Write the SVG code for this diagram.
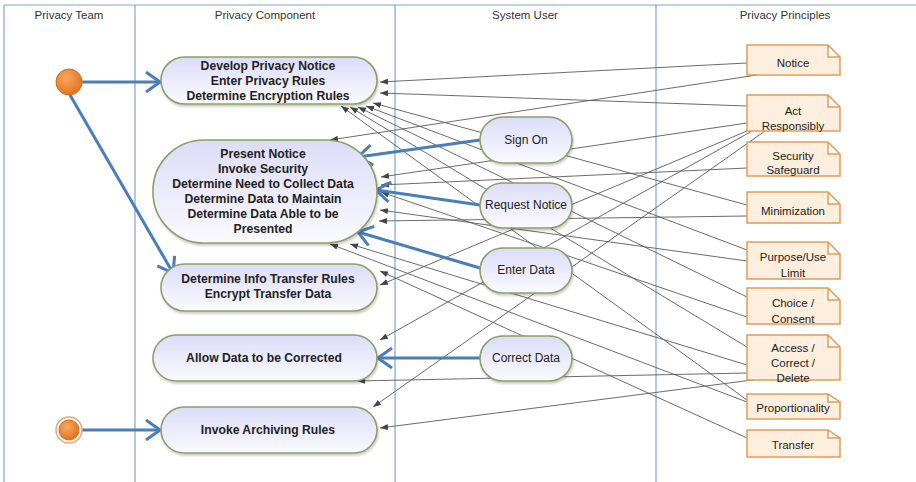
<svg xmlns="http://www.w3.org/2000/svg" width="916" height="482" viewBox="0 0 916 482">
<defs>
<linearGradient id="ng" x1="0" y1="0" x2="0" y2="1">
<stop offset="0" stop-color="#dcdcf8"/>
<stop offset="1" stop-color="#fafaff"/>
</linearGradient>
<radialGradient id="og" cx="0.4" cy="0.35" r="0.7">
<stop offset="0" stop-color="#f9a860"/>
<stop offset="1" stop-color="#e0701c"/>
</radialGradient>
<marker id="ga" markerUnits="userSpaceOnUse" markerWidth="8" markerHeight="6" refX="8" refY="3" orient="auto">
<path d="M0,0 L8,3 L0,6 z" fill="#444"/>
</marker>
<marker id="ba" markerUnits="userSpaceOnUse" markerWidth="16" markerHeight="22" refX="15" refY="11" orient="auto">
<path d="M1,1 L15,11 L1,21" fill="none" stroke="#4a7ebb" stroke-width="3"/>
</marker>
<filter id="sh" x="-10%" y="-10%" width="130%" height="140%">
<feDropShadow dx="1" dy="2" stdDeviation="1" flood-color="#000" flood-opacity="0.2"/>
</filter>
</defs>
<style>
.lane{stroke:#7ea6d8;stroke-width:1.2;fill:none}
.hdr{font-family:"Liberation Sans",Arial,sans-serif;font-size:11.5px;fill:#333;text-anchor:middle}
.node{fill:url(#ng);stroke:#8c9e6a;stroke-width:1.6;filter:url(#sh)}
.bt{font-family:"Liberation Sans",Arial,sans-serif;font-size:12.2px;font-weight:bold;fill:#222;text-anchor:middle}
.ut{font-family:"Liberation Sans",Arial,sans-serif;font-size:12px;fill:#222;text-anchor:middle}
.note{fill:#fdeedd;stroke:#e59a58;stroke-width:1.5}
.nt{font-family:"Liberation Sans",Arial,sans-serif;font-size:11.5px;fill:#222;text-anchor:middle}
.g{stroke:#5a5a5a;stroke-width:0.9;fill:none;marker-end:url(#ga)}
.b{stroke:#4a7ebb;stroke-width:3;fill:none;marker-end:url(#ba)}
</style>
<rect width="916" height="482" fill="#fff"/>
<g id="lanes">
<path class="lane" d="M4,5 H916 M4,5 V482 M135,5 V482 M395,5 V482 M656,5 V482"/>
<text class="hdr" x="69" y="19">Privacy Team</text>
<text class="hdr" x="265" y="19">Privacy Component</text>
<text class="hdr" x="525" y="19">System User</text>
<text class="hdr" x="785" y="19">Privacy Principles</text>
</g>
<g id="connectors">
<line class="g" x1="747" y1="63" x2="380" y2="82"/>
<line class="g" x1="757" y1="75" x2="330" y2="140"/>
<line class="g" x1="747" y1="106" x2="380" y2="93"/>
<line class="g" x1="747" y1="205" x2="373" y2="103"/>
<line class="g" x1="747" y1="250" x2="366" y2="106"/>
<line class="g" x1="747" y1="297" x2="358" y2="107"/>
<line class="g" x1="747" y1="347" x2="350" y2="107"/>
<line class="g" x1="747" y1="400" x2="341" y2="106"/>
<line class="g" x1="747" y1="123" x2="381" y2="177"/>
<line class="g" x1="747" y1="168" x2="381" y2="185"/>
<line class="g" x1="747" y1="317" x2="381" y2="192"/>
<line class="g" x1="747" y1="261" x2="380" y2="210"/>
<line class="g" x1="747" y1="216" x2="379" y2="221"/>
<line class="g" x1="747" y1="365" x2="350" y2="244"/>
<line class="g" x1="747" y1="402" x2="330" y2="244"/>
<line class="g" x1="747" y1="438" x2="380" y2="271"/>
<line class="g" x1="747" y1="131" x2="380" y2="285"/>
<line class="g" x1="752" y1="131" x2="380" y2="340"/>
<line class="g" x1="747" y1="373" x2="357" y2="381"/>
<line class="g" x1="765" y1="131" x2="373" y2="407"/>
<line class="g" x1="760" y1="379" x2="380" y2="428"/>
<line class="b" x1="82" y1="82" x2="160" y2="82"/>
<line class="b" x1="70" y1="95" x2="173" y2="273"/>
<line class="b" x1="82" y1="430" x2="160" y2="430"/>
<line class="b" x1="480" y1="140" x2="358" y2="157"/>
<line class="b" x1="480" y1="205" x2="376" y2="190"/>
<line class="b" x1="480" y1="268" x2="358" y2="232"/>
<line class="b" x1="480" y1="358" x2="378" y2="358"/>
</g>
<g id="start"><circle cx="69" cy="82" r="13" fill="url(#og)" stroke="#d36a1a" stroke-width="1"/></g>
<g id="end"><circle cx="69" cy="430" r="13" fill="none" stroke="#f4a46a" stroke-width="1.5"/><circle cx="69" cy="430" r="10" fill="url(#og)" stroke="#d36a1a" stroke-width="1"/></g>
<g id="develop"><rect class="node" x="161" y="57" width="216" height="47" rx="23.5"/>
<text class="bt" x="268" y="70">Develop Privacy Notice</text>
<text class="bt" x="268" y="85">Enter Privacy Rules</text>
<text class="bt" x="268" y="100">Determine Encryption Rules</text></g>
<g id="present"><rect class="node" x="153" y="140" width="224" height="103" rx="51"/>
<text class="bt" x="263" y="158">Present Notice</text>
<text class="bt" x="263" y="173">Invoke Security</text>
<text class="bt" x="263" y="188">Determine Need to Collect Data</text>
<text class="bt" x="263" y="203">Determine Data to Maintain</text>
<text class="bt" x="263" y="218">Determine Data Able to be</text>
<text class="bt" x="263" y="233">Presented</text></g>
<g id="transfer-rules"><rect class="node" x="161" y="264" width="216" height="47" rx="23.5"/>
<text class="bt" x="268" y="283">Determine Info Transfer Rules</text>
<text class="bt" x="268" y="298">Encrypt Transfer Data</text></g>
<g id="allow"><rect class="node" x="153" y="335" width="224" height="46" rx="23"/>
<text class="bt" x="264" y="362">Allow Data to be Corrected</text></g>
<g id="archive"><rect class="node" x="161" y="407" width="216" height="46" rx="23"/>
<text class="bt" x="268" y="434">Invoke Archiving Rules</text></g>
<g id="signon"><rect class="node" x="480" y="117" width="92" height="46" rx="23"/>
<text class="ut" x="526" y="144">Sign On</text></g>
<g id="request"><rect class="node" x="480" y="183" width="92" height="45" rx="22.5"/>
<text class="ut" x="526" y="209">Request Notice</text></g>
<g id="enter"><rect class="node" x="480" y="248" width="92" height="45" rx="22.5"/>
<text class="ut" x="526" y="274">Enter Data</text></g>
<g id="correct"><rect class="node" x="480" y="336" width="92" height="45" rx="22.5"/>
<text class="ut" x="526" y="362">Correct Data</text></g>
<g id="notice"><path class="note" d="M747,45 H828 L840,57 V75 H747 Z M828,45 V57 H840"/>
<text class="nt" x="793" y="67">Notice</text></g>
<g id="act"><path class="note" d="M747,95 H828 L840,107 V131 H747 Z M828,95 V107 H840"/>
<text class="nt" x="793" y="115">Act</text><text class="nt" x="793" y="130">Responsibly</text></g>
<g id="security"><path class="note" d="M747,142 H828 L840,154 V176 H747 Z M828,142 V154 H840"/>
<text class="nt" x="793" y="160">Security</text><text class="nt" x="793" y="174">Safeguard</text></g>
<g id="minimization"><path class="note" d="M747,192 H828 L840,204 V223 H747 Z M828,192 V204 H840"/>
<text class="nt" x="793" y="215">Minimization</text></g>
<g id="purpose"><path class="note" d="M747,242 H828 L840,254 V279 H747 Z M828,242 V254 H840"/>
<text class="nt" x="793" y="261">Purpose/Use</text><text class="nt" x="793" y="277">Limit</text></g>
<g id="choice"><path class="note" d="M747,288 H828 L840,300 V324 H747 Z M828,288 V300 H840"/>
<text class="nt" x="793" y="307">Choice /</text><text class="nt" x="793" y="323">Consent</text></g>
<g id="access"><path class="note" d="M747,335 H828 L840,347 V380 H747 Z M828,335 V347 H840"/>
<text class="nt" x="793" y="352">Access /</text><text class="nt" x="793" y="367">Correct /</text><text class="nt" x="793" y="382">Delete</text></g>
<g id="proportionality"><path class="note" d="M747,394 H828 L840,402 V419 H747 Z M828,394 V402 H840"/>
<text class="nt" x="793" y="412">Proportionality</text></g>
<g id="transfer"><path class="note" d="M747,430 H828 L840,438 V457 H747 Z M828,430 V438 H840"/>
<text class="nt" x="793" y="449">Transfer</text></g>
</svg>
